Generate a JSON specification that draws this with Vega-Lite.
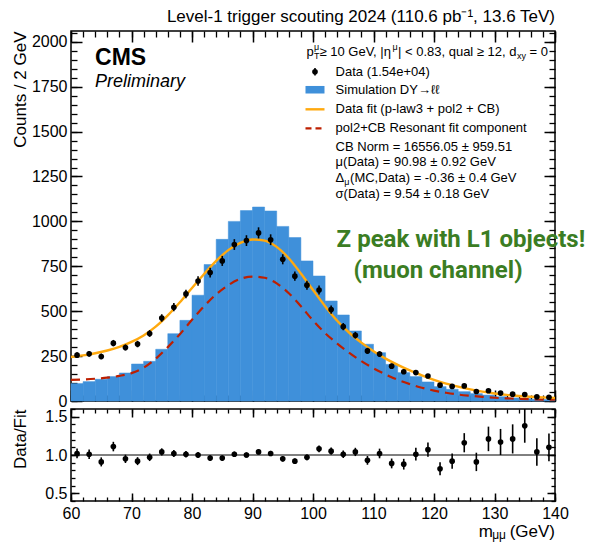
{
  "$schema": "https://vega.github.io/schema/vega-lite/v6.json",
  "background": "white",
  "padding": {"left": 10, "top": 7, "right": 0, "bottom": 0},
  "spacing": 8,
  "bounds": "flush",
  "config": {
    "font": "Liberation Sans",
    "view": {"stroke": "#000", "strokeWidth": 1.5},
    "axis": {"labelFont": "Liberation Sans", "titleFont": "Liberation Sans", "labelColor": "#000", "titleColor": "#000", "tickColor": "black", "domainColor": "#000", "grid": false, "titleFontWeight": "normal", "zindex": 2, "tickWidth": 1.5, "tickOpacity": 1, "labelFlush": false, "labelOverlap": false, "domain": false},
    "text": {"font": "Liberation Sans", "color": "#000"}
  },
  "datasets": {
    "hist": [
      {"lo": 60, "hi": 62, "mc": 97}, {"lo": 62, "hi": 64, "mc": 108}, {"lo": 64, "hi": 66, "mc": 121}, {"lo": 66, "hi": 68, "mc": 136},
      {"lo": 68, "hi": 70, "mc": 156}, {"lo": 70, "hi": 72, "mc": 206}, {"lo": 72, "hi": 74, "mc": 221}, {"lo": 74, "hi": 76, "mc": 288},
      {"lo": 76, "hi": 78, "mc": 375}, {"lo": 78, "hi": 80, "mc": 449}, {"lo": 80, "hi": 82, "mc": 589}, {"lo": 82, "hi": 84, "mc": 760},
      {"lo": 84, "hi": 86, "mc": 900}, {"lo": 86, "hi": 88, "mc": 1000}, {"lo": 88, "hi": 90, "mc": 1060}, {"lo": 90, "hi": 92, "mc": 1080},
      {"lo": 92, "hi": 94, "mc": 1058}, {"lo": 94, "hi": 96, "mc": 972}, {"lo": 96, "hi": 98, "mc": 910}, {"lo": 98, "hi": 100, "mc": 780},
      {"lo": 100, "hi": 102, "mc": 696}, {"lo": 102, "hi": 104, "mc": 557}, {"lo": 104, "hi": 106, "mc": 479}, {"lo": 106, "hi": 108, "mc": 390},
      {"lo": 108, "hi": 110, "mc": 316}, {"lo": 110, "hi": 112, "mc": 269}, {"lo": 112, "hi": 114, "mc": 204}, {"lo": 114, "hi": 116, "mc": 158},
      {"lo": 116, "hi": 118, "mc": 136}, {"lo": 118, "hi": 120, "mc": 106}, {"lo": 120, "hi": 122, "mc": 80}, {"lo": 122, "hi": 124, "mc": 65},
      {"lo": 124, "hi": 126, "mc": 52}, {"lo": 126, "hi": 128, "mc": 41}, {"lo": 128, "hi": 130, "mc": 33}, {"lo": 130, "hi": 132, "mc": 24},
      {"lo": 132, "hi": 134, "mc": 17}, {"lo": 134, "hi": 136, "mc": 13}, {"lo": 136, "hi": 138, "mc": 10}, {"lo": 138, "hi": 140, "mc": 8}
    ],
    "pts": [
      {"x": 61, "n": 255, "nlo": 239, "nhi": 271, "r": 1.02, "rlo": 0.956, "rhi": 1.084},
      {"x": 63, "n": 263, "nlo": 247, "nhi": 279, "r": 1.01, "rlo": 0.948, "rhi": 1.072},
      {"x": 65, "n": 248, "nlo": 232, "nhi": 264, "r": 0.91, "rlo": 0.851, "rhi": 0.969},
      {"x": 67, "n": 322, "nlo": 304, "nhi": 340, "r": 1.11, "rlo": 1.048, "rhi": 1.172},
      {"x": 69, "n": 298, "nlo": 281, "nhi": 315, "r": 0.95, "rlo": 0.896, "rhi": 1.004},
      {"x": 71, "n": 317, "nlo": 299, "nhi": 335, "r": 0.92, "rlo": 0.868, "rhi": 0.972},
      {"x": 73, "n": 376, "nlo": 357, "nhi": 395, "r": 0.97, "rlo": 0.921, "rhi": 1.019},
      {"x": 75, "n": 462, "nlo": 441, "nhi": 483, "r": 1.04, "rlo": 0.993, "rhi": 1.087},
      {"x": 77, "n": 522, "nlo": 499, "nhi": 545, "r": 1.02, "rlo": 0.975, "rhi": 1.065},
      {"x": 79, "n": 596, "nlo": 572, "nhi": 620, "r": 1.01, "rlo": 0.969, "rhi": 1.051},
      {"x": 81, "n": 668, "nlo": 642, "nhi": 694, "r": 1.0, "rlo": 0.961, "rhi": 1.039},
      {"x": 83, "n": 715, "nlo": 688, "nhi": 742, "r": 0.96, "rlo": 0.924, "rhi": 0.996},
      {"x": 85, "n": 780, "nlo": 752, "nhi": 808, "r": 0.96, "rlo": 0.926, "rhi": 0.994},
      {"x": 87, "n": 871, "nlo": 841, "nhi": 901, "r": 1.01, "rlo": 0.975, "rhi": 1.045},
      {"x": 89, "n": 893, "nlo": 863, "nhi": 923, "r": 1.0, "rlo": 0.966, "rhi": 1.034},
      {"x": 91, "n": 936, "nlo": 905, "nhi": 967, "r": 1.04, "rlo": 1.006, "rhi": 1.074},
      {"x": 93, "n": 898, "nlo": 868, "nhi": 928, "r": 1.02, "rlo": 0.986, "rhi": 1.054},
      {"x": 95, "n": 789, "nlo": 761, "nhi": 817, "r": 0.95, "rlo": 0.916, "rhi": 0.984},
      {"x": 97, "n": 695, "nlo": 669, "nhi": 721, "r": 0.92, "rlo": 0.886, "rhi": 0.954},
      {"x": 99, "n": 645, "nlo": 620, "nhi": 670, "r": 0.97, "rlo": 0.932, "rhi": 1.008},
      {"x": 101, "n": 618, "nlo": 593, "nhi": 643, "r": 1.08, "rlo": 1.036, "rhi": 1.124},
      {"x": 103, "n": 509, "nlo": 486, "nhi": 532, "r": 1.05, "rlo": 1.003, "rhi": 1.097},
      {"x": 105, "n": 414, "nlo": 394, "nhi": 434, "r": 1.01, "rlo": 0.961, "rhi": 1.059},
      {"x": 107, "n": 366, "nlo": 347, "nhi": 385, "r": 1.04, "rlo": 0.986, "rhi": 1.094},
      {"x": 109, "n": 279, "nlo": 262, "nhi": 296, "r": 0.93, "rlo": 0.873, "rhi": 0.987},
      {"x": 111, "n": 261, "nlo": 245, "nhi": 277, "r": 1.02, "rlo": 0.957, "rhi": 1.083},
      {"x": 113, "n": 194, "nlo": 180, "nhi": 208, "r": 0.89, "rlo": 0.826, "rhi": 0.954},
      {"x": 115, "n": 163, "nlo": 150, "nhi": 176, "r": 0.88, "rlo": 0.81, "rhi": 0.95},
      {"x": 117, "n": 158, "nlo": 145, "nhi": 171, "r": 1.01, "rlo": 0.927, "rhi": 1.093},
      {"x": 119, "n": 139, "nlo": 127, "nhi": 151, "r": 1.07, "rlo": 0.978, "rhi": 1.162},
      {"x": 121, "n": 88, "nlo": 79, "nhi": 97, "r": 0.82, "rlo": 0.736, "rhi": 0.904},
      {"x": 123, "n": 81, "nlo": 72, "nhi": 90, "r": 0.92, "rlo": 0.82, "rhi": 1.02},
      {"x": 125, "n": 84, "nlo": 75, "nhi": 93, "r": 1.16, "rlo": 1.035, "rhi": 1.285},
      {"x": 127, "n": 53, "nlo": 46, "nhi": 60, "r": 0.91, "rlo": 0.79, "rhi": 1.03},
      {"x": 129, "n": 57, "nlo": 49, "nhi": 65, "r": 1.21, "rlo": 1.05, "rhi": 1.37},
      {"x": 131, "n": 44, "nlo": 37, "nhi": 51, "r": 1.17, "rlo": 1.0, "rhi": 1.34},
      {"x": 133, "n": 38, "nlo": 32, "nhi": 44, "r": 1.21, "rlo": 1.02, "rhi": 1.4},
      {"x": 135, "n": 36, "nlo": 30, "nhi": 42, "r": 1.38, "rlo": 1.16, "rhi": 1.6},
      {"x": 137, "n": 23, "nlo": 18, "nhi": 28, "r": 1.04, "rlo": 0.86, "rhi": 1.22},
      {"x": 139, "n": 21, "nlo": 16, "nhi": 26, "r": 1.1, "rlo": 0.92, "rhi": 1.28}
    ],
    "fit": [
      {"x": 60, "f": 245, "res": 118}, {"x": 62, "f": 254, "res": 120}, {"x": 64, "f": 266, "res": 124}, {"x": 66, "f": 281, "res": 130},
      {"x": 68, "f": 301, "res": 140}, {"x": 70, "f": 329, "res": 155}, {"x": 72, "f": 365, "res": 185}, {"x": 74, "f": 414, "res": 235},
      {"x": 76, "f": 477, "res": 300}, {"x": 78, "f": 550, "res": 372}, {"x": 80, "f": 629, "res": 452}, {"x": 82, "f": 707, "res": 528},
      {"x": 84, "f": 780, "res": 594}, {"x": 86, "f": 840, "res": 645}, {"x": 88, "f": 880, "res": 680}, {"x": 90, "f": 899, "res": 693},
      {"x": 92, "f": 893, "res": 686}, {"x": 94, "f": 858, "res": 655}, {"x": 96, "f": 795, "res": 600}, {"x": 98, "f": 710, "res": 528},
      {"x": 100, "f": 618, "res": 448}, {"x": 102, "f": 528, "res": 378}, {"x": 104, "f": 447, "res": 320}, {"x": 106, "f": 380, "res": 268},
      {"x": 108, "f": 325, "res": 222}, {"x": 110, "f": 277, "res": 182}, {"x": 112, "f": 236, "res": 148}, {"x": 114, "f": 201, "res": 118},
      {"x": 116, "f": 170, "res": 94}, {"x": 118, "f": 143, "res": 74}, {"x": 120, "f": 118, "res": 58}, {"x": 122, "f": 97, "res": 46},
      {"x": 124, "f": 80, "res": 36}, {"x": 126, "f": 65, "res": 29}, {"x": 128, "f": 52, "res": 23}, {"x": 130, "f": 42, "res": 18},
      {"x": 132, "f": 34, "res": 15}, {"x": 134, "f": 28, "res": 12}, {"x": 136, "f": 24, "res": 10}, {"x": 138, "f": 20, "res": 8},
      {"x": 140, "f": 17, "res": 7}
    ]
  },
  "vconcat": [
    {
      "width": 484,
      "height": 370,
      "resolve": {"axis": {"x": "independent", "y": "independent"}},
      "layer": [
        {
          "data": {"name": "hist"},
          "mark": {"type": "rect", "color": "#3f90da", "stroke": "#3f90da", "strokeWidth": 0.5},
          "encoding": {
            "x": {"field": "lo", "type": "quantitative", "scale": {"domain": [60, 140], "nice": false, "zero": false},
                  "axis": {"orient": "bottom", "values": [60, 70, 80, 90, 100, 110, 120, 130, 140], "ticks": true, "tickColor": "black", "tickWidth": 1.5, "tickSize": -11, "labels": false, "title": null}},
            "x2": {"field": "hi"},
            "y": {"field": "mc", "type": "quantitative", "scale": {"domain": [0, 2060], "nice": false},
                  "axis": {"orient": "left", "values": [0, 250, 500, 750, 1000, 1250, 1500, 1750, 2000], "format": "d", "ticks": false, "labelFontSize": 16, "labelPadding": 4,
                           "title": "Counts / 2 GeV", "titleFontSize": 17, "titleAnchor": "end", "titleX": -46, "titleBaseline": "alphabetic"}},
            "y2": {"datum": 0}
          }
        },
        {
          "data": {"name": "fit"},
          "mark": {"type": "line", "color": "#bd1f01", "strokeWidth": 2.2, "strokeDash": [9, 6], "interpolate": "monotone"},
          "encoding": {
            "x": {"field": "x", "type": "quantitative",
                  "axis": {"orient": "bottom", "values": [60,62,64,66,68,70,72,74,76,78,80,82,84,86,88,90,92,94,96,98,100,102,104,106,108,110,112,114,116,118,120,122,124,126,128,130,132,134,136,138,140], "ticks": true, "tickColor": "black", "tickWidth": 1.3, "tickSize": -6, "labels": false, "title": null}},
            "y": {"field": "res", "type": "quantitative",
                  "axis": {"orient": "left", "values": [0,50,100,150,200,250,300,350,400,450,500,550,600,650,700,750,800,850,900,950,1000,1050,1100,1150,1200,1250,1300,1350,1400,1450,1500,1550,1600,1650,1700,1750,1800,1850,1900,1950,2000,2050], "ticks": true, "tickColor": "black", "tickWidth": 1.3, "tickSize": -6, "labels": false, "title": null}}
          }
        },
        {
          "data": {"name": "fit"},
          "mark": {"type": "line", "color": "#ffa90e", "strokeWidth": 2.4, "interpolate": "monotone"},
          "encoding": {
            "x": {"field": "x", "type": "quantitative",
                  "axis": {"orient": "top", "values": [60, 70, 80, 90, 100, 110, 120, 130, 140], "ticks": true, "tickColor": "black", "tickWidth": 1.5, "tickSize": -11, "labels": false, "title": null}},
            "y": {"field": "f", "type": "quantitative",
                  "axis": {"orient": "right", "values": [0, 250, 500, 750, 1000, 1250, 1500, 1750, 2000], "ticks": true, "tickColor": "black", "tickWidth": 1.5, "tickSize": -11, "labels": false, "title": null}}
          }
        },
        {
          "data": {"name": "pts"},
          "mark": {"type": "rule", "color": "#000", "strokeWidth": 1.6},
          "encoding": {
            "x": {"field": "x", "type": "quantitative",
                  "axis": {"orient": "top", "values": [60,62,64,66,68,70,72,74,76,78,80,82,84,86,88,90,92,94,96,98,100,102,104,106,108,110,112,114,116,118,120,122,124,126,128,130,132,134,136,138,140], "ticks": true, "tickColor": "black", "tickWidth": 1.3, "tickSize": -6, "labels": false, "title": null}},
            "y": {"field": "nlo", "type": "quantitative",
                  "axis": {"orient": "left", "values": [0, 250, 500, 750, 1000, 1250, 1500, 1750, 2000], "ticks": true, "tickColor": "black", "tickWidth": 1.5, "tickSize": -11, "labels": false, "title": null}},
            "y2": {"field": "nhi"}
          }
        },
        {
          "data": {"name": "pts"},
          "mark": {"type": "point", "filled": true, "color": "#000", "size": 32, "opacity": 1},
          "encoding": {
            "x": {"field": "x", "type": "quantitative", "axis": null},
            "y": {"field": "n", "type": "quantitative",
                  "axis": {"orient": "right", "values": [0,50,100,150,200,250,300,350,400,450,500,550,600,650,700,750,800,850,900,950,1000,1050,1100,1150,1200,1250,1300,1350,1400,1450,1500,1550,1600,1650,1700,1750,1800,1850,1900,1950,2000,2050], "ticks": true, "tickColor": "black", "tickWidth": 1.3, "tickSize": -6, "labels": false, "title": null}}
          }
        },
        {
          "data": {"values": [{}]},
          "mark": {"type": "text", "text": "Level-1 trigger scouting 2024 (110.6 pb⁻¹, 13.6 TeV)", "align": "right", "baseline": "alphabetic", "fontSize": 17},
          "encoding": {"x": {"datum": 140, "axis": null}, "y": {"datum": 2110, "axis": null}}
        },
        {
          "data": {"values": [{}]},
          "mark": {"type": "text", "text": "CMS", "align": "left", "baseline": "alphabetic", "fontSize": 23, "fontWeight": "bold"},
          "encoding": {"x": {"datum": 63.97, "axis": null}, "y": {"datum": 1869, "axis": null}}
        },
        {
          "data": {"values": [{}]},
          "mark": {"type": "text", "text": "Preliminary", "align": "left", "baseline": "alphabetic", "fontSize": 18, "fontStyle": "italic"},
          "encoding": {"x": {"datum": 63.97, "axis": null}, "y": {"datum": 1748, "axis": null}}
        },
        {
          "data": {"values": [{}]},
          "mark": {"type": "text", "text": "p", "align": "left", "baseline": "middle", "fontSize": 13},
          "encoding": {"x": {"datum": 98.92, "axis": null}, "y": {"datum": 1945, "axis": null}}
        },
        {
          "data": {"values": [{}]},
          "mark": {"type": "text", "text": "μ", "align": "left", "baseline": "middle", "fontSize": 9, "dx": 7.5, "dy": -5},
          "encoding": {"x": {"datum": 98.92, "axis": null}, "y": {"datum": 1945, "axis": null}}
        },
        {
          "data": {"values": [{}]},
          "mark": {"type": "text", "text": "T", "align": "left", "baseline": "middle", "fontSize": 9, "dx": 7.5, "dy": 4},
          "encoding": {"x": {"datum": 98.92, "axis": null}, "y": {"datum": 1945, "axis": null}}
        },
        {
          "data": {"values": [{}]},
          "mark": {"type": "text", "text": "≥ 10 GeV, |η", "align": "left", "baseline": "middle", "fontSize": 13, "dx": 13},
          "encoding": {"x": {"datum": 98.92, "axis": null}, "y": {"datum": 1945, "axis": null}}
        },
        {
          "data": {"values": [{}]},
          "mark": {"type": "text", "text": "μ", "align": "left", "baseline": "middle", "fontSize": 9, "dx": 86, "dy": -5},
          "encoding": {"x": {"datum": 98.92, "axis": null}, "y": {"datum": 1945, "axis": null}}
        },
        {
          "data": {"values": [{}]},
          "mark": {"type": "text", "text": "| < 0.83, qual ≥ 12, d", "align": "left", "baseline": "middle", "fontSize": 13, "dx": 91.5},
          "encoding": {"x": {"datum": 98.92, "axis": null}, "y": {"datum": 1945, "axis": null}}
        },
        {
          "data": {"values": [{}]},
          "mark": {"type": "text", "text": "xy", "align": "left", "baseline": "middle", "fontSize": 9, "dx": 210.5, "dy": 4},
          "encoding": {"x": {"datum": 98.92, "axis": null}, "y": {"datum": 1945, "axis": null}}
        },
        {
          "data": {"values": [{}]},
          "mark": {"type": "text", "text": "= 0", "align": "left", "baseline": "middle", "fontSize": 13, "dx": 223},
          "encoding": {"x": {"datum": 98.92, "axis": null}, "y": {"datum": 1945, "axis": null}}
        },
        {
          "data": {"values": [{}]},
          "mark": {"type": "rule", "color": "#000", "strokeWidth": 1.6},
          "encoding": {"x": {"datum": 100.33, "axis": null}, "y": {"datum": 1854, "axis": null}, "y2": {"datum": 1812}}
        },
        {
          "data": {"values": [{}]},
          "mark": {"type": "point", "filled": true, "color": "#000", "size": 32, "opacity": 1},
          "encoding": {"x": {"datum": 100.33, "axis": null}, "y": {"datum": 1833, "axis": null}}
        },
        {
          "data": {"values": [{}]},
          "mark": {"type": "rect", "color": "#3f90da"},
          "encoding": {"x": {"datum": 98.76, "axis": null}, "x2": {"datum": 101.9}, "y": {"datum": 1712, "axis": null}, "y2": {"datum": 1754}}
        },
        {
          "data": {"values": [{}]},
          "mark": {"type": "rule", "color": "#ffa90e", "strokeWidth": 2.4},
          "encoding": {"x": {"datum": 98.76, "axis": null}, "x2": {"datum": 101.9}, "y": {"datum": 1624, "axis": null}}
        },
        {
          "data": {"values": [{}]},
          "mark": {"type": "rule", "color": "#bd1f01", "strokeWidth": 2.4, "strokeDash": [6, 4]},
          "encoding": {"x": {"datum": 98.76, "axis": null}, "x2": {"datum": 101.9}, "y": {"datum": 1518, "axis": null}}
        },
        {
          "data": {"values": [{}]},
          "mark": {"type": "text", "text": "Data (1.54e+04)", "align": "left", "baseline": "middle", "fontSize": 13},
          "encoding": {"x": {"datum": 103.73, "axis": null}, "y": {"datum": 1833, "axis": null}}
        },
        {
          "data": {"values": [{}]},
          "mark": {"type": "text", "text": "Simulation DY→ℓℓ", "align": "left", "baseline": "middle", "fontSize": 13},
          "encoding": {"x": {"datum": 103.73, "axis": null}, "y": {"datum": 1732, "axis": null}}
        },
        {
          "data": {"values": [{}]},
          "mark": {"type": "text", "text": "Data fit (p-law3 + pol2 + CB)", "align": "left", "baseline": "middle", "fontSize": 13},
          "encoding": {"x": {"datum": 103.73, "axis": null}, "y": {"datum": 1624, "axis": null}}
        },
        {
          "data": {"values": [{}]},
          "mark": {"type": "text", "text": "pol2+CB Resonant fit component", "align": "left", "baseline": "middle", "fontSize": 13},
          "encoding": {"x": {"datum": 103.73, "axis": null}, "y": {"datum": 1518, "axis": null}}
        },
        {
          "data": {"values": [{}]},
          "mark": {"type": "text", "text": "CB Norm = 16556.05 ± 959.51", "align": "left", "baseline": "middle", "fontSize": 13},
          "encoding": {"x": {"datum": 103.73, "axis": null}, "y": {"datum": 1414, "axis": null}}
        },
        {
          "data": {"values": [{}]},
          "mark": {"type": "text", "text": "μ(Data) = 90.98 ± 0.92 GeV", "align": "left", "baseline": "middle", "fontSize": 13},
          "encoding": {"x": {"datum": 103.73, "axis": null}, "y": {"datum": 1328, "axis": null}}
        },
        {
          "data": {"values": [{}]},
          "mark": {"type": "text", "text": "Δ", "align": "left", "baseline": "middle", "fontSize": 13},
          "encoding": {"x": {"datum": 103.73, "axis": null}, "y": {"datum": 1244, "axis": null}}
        },
        {
          "data": {"values": [{}]},
          "mark": {"type": "text", "text": "μ", "align": "left", "baseline": "middle", "fontSize": 9, "dx": 8.8, "dy": 4},
          "encoding": {"x": {"datum": 103.73, "axis": null}, "y": {"datum": 1244, "axis": null}}
        },
        {
          "data": {"values": [{}]},
          "mark": {"type": "text", "text": "(MC,Data) = -0.36 ± 0.4 GeV", "align": "left", "baseline": "middle", "fontSize": 13, "dx": 14.5},
          "encoding": {"x": {"datum": 103.73, "axis": null}, "y": {"datum": 1244, "axis": null}}
        },
        {
          "data": {"values": [{}]},
          "mark": {"type": "text", "text": "σ(Data) = 9.54 ± 0.18 GeV", "align": "left", "baseline": "middle", "fontSize": 13},
          "encoding": {"x": {"datum": 103.73, "axis": null}, "y": {"datum": 1150, "axis": null}}
        },
        {
          "data": {"values": [{}]},
          "mark": {"type": "text", "text": "Z peak with L1 objects!", "align": "left", "baseline": "alphabetic", "font": "Roboto", "fontSize": 24, "fontWeight": "bold", "color": "#3b7d23"},
          "encoding": {"x": {"datum": 103.9, "axis": null}, "y": {"datum": 857, "axis": null}}
        },
        {
          "data": {"values": [{}]},
          "mark": {"type": "text", "text": "(muon channel)", "align": "left", "baseline": "alphabetic", "font": "Roboto", "fontSize": 24, "fontWeight": "bold", "color": "#3b7d23"},
          "encoding": {"x": {"datum": 106.7, "axis": null}, "y": {"datum": 685, "axis": null}}
        }
      ]
    },
    {
      "width": 484,
      "height": 92,
      "resolve": {"axis": {"x": "independent", "y": "independent"}},
      "layer": [
        {
          "data": {"values": [{}]},
          "mark": {"type": "rule", "color": "#000", "strokeWidth": 1},
          "encoding": {
            "y": {"datum": 1, "scale": {"domain": [0.4, 1.6], "nice": false, "zero": false},
                  "axis": {"orient": "left", "values": [0.4,0.5,0.6,0.7,0.8,0.9,1.0,1.1,1.2,1.3,1.4,1.5,1.6], "ticks": true, "tickColor": "black", "tickWidth": 1.3, "tickSize": -4, "labels": false, "title": null}}
          }
        },
        {
          "data": {"name": "pts"},
          "mark": {"type": "rule", "color": "#000", "strokeWidth": 1.6},
          "encoding": {
            "x": {"field": "x", "type": "quantitative", "scale": {"domain": [60, 140], "nice": false, "zero": false},
                  "axis": {"orient": "bottom", "values": [60, 70, 80, 90, 100, 110, 120, 130, 140], "ticks": false, "labelFontSize": 16, "labelPadding": 4, "title": null}},
            "y": {"field": "rlo", "type": "quantitative",
                  "axis": {"orient": "left", "values": [0.5, 1.0, 1.5], "format": ".1f", "ticks": false, "labelFontSize": 16, "labelPadding": 4,
                           "title": "Data/Fit", "titleFontSize": 17, "titleAnchor": "end", "titleX": -46, "titleBaseline": "alphabetic"}},
            "y2": {"field": "rhi"}
          }
        },
        {
          "data": {"name": "pts"},
          "mark": {"type": "point", "filled": true, "color": "#000", "size": 32, "opacity": 1},
          "encoding": {
            "x": {"field": "x", "type": "quantitative",
                  "axis": {"orient": "top", "values": [60, 70, 80, 90, 100, 110, 120, 130, 140], "ticks": true, "tickColor": "black", "tickWidth": 1.5, "tickSize": -8, "labels": false, "title": null}},
            "y": {"field": "r", "type": "quantitative",
                  "axis": {"orient": "right", "values": [0.5, 1.0, 1.5], "ticks": true, "tickColor": "black", "tickWidth": 1.5, "tickSize": -8, "labels": false, "title": null}}
          }
        },
        {
          "data": {"name": "pts"},
          "mark": {"type": "point", "opacity": 0},
          "encoding": {
            "x": {"field": "x", "type": "quantitative",
                  "axis": {"orient": "bottom", "values": [60, 70, 80, 90, 100, 110, 120, 130, 140], "ticks": true, "tickColor": "black", "tickWidth": 1.5, "tickSize": -8, "labels": false, "title": null}},
            "y": {"field": "r", "type": "quantitative",
                  "axis": {"orient": "right", "values": [0.4,0.5,0.6,0.7,0.8,0.9,1.0,1.1,1.2,1.3,1.4,1.5,1.6], "ticks": true, "tickColor": "black", "tickWidth": 1.3, "tickSize": -4, "labels": false, "title": null}}
          }
        },
        {
          "data": {"name": "pts"},
          "mark": {"type": "point", "opacity": 0},
          "encoding": {
            "x": {"field": "x", "type": "quantitative",
                  "axis": {"orient": "top", "values": [60,62,64,66,68,70,72,74,76,78,80,82,84,86,88,90,92,94,96,98,100,102,104,106,108,110,112,114,116,118,120,122,124,126,128,130,132,134,136,138,140], "ticks": true, "tickColor": "black", "tickWidth": 1.3, "tickSize": -4, "labels": false, "title": null}},
            "y": {"field": "r", "type": "quantitative",
                  "axis": {"orient": "left", "values": [0.5, 1.0, 1.5], "ticks": true, "tickColor": "black", "tickWidth": 1.5, "tickSize": -8, "labels": false, "title": null}}
          }
        },
        {
          "data": {"name": "pts"},
          "mark": {"type": "point", "opacity": 0},
          "encoding": {
            "x": {"field": "x", "type": "quantitative",
                  "axis": {"orient": "bottom", "values": [60,62,64,66,68,70,72,74,76,78,80,82,84,86,88,90,92,94,96,98,100,102,104,106,108,110,112,114,116,118,120,122,124,126,128,130,132,134,136,138,140], "ticks": true, "tickColor": "black", "tickWidth": 1.3, "tickSize": -4, "labels": false, "title": null}},
            "y": {"field": "r", "type": "quantitative", "axis": null}
          }
        },
        {
          "data": {"values": [{}]},
          "mark": {"type": "text", "text": "(GeV)", "align": "right", "baseline": "alphabetic", "fontSize": 17},
          "encoding": {"x": {"datum": 140, "axis": null}, "y": {"datum": -0.065, "axis": null}}
        },
        {
          "data": {"values": [{}]},
          "mark": {"type": "text", "text": "μμ", "align": "right", "baseline": "alphabetic", "fontSize": 12, "dx": -49, "dy": 2},
          "encoding": {"x": {"datum": 140, "axis": null}, "y": {"datum": -0.065, "axis": null}}
        },
        {
          "data": {"values": [{}]},
          "mark": {"type": "text", "text": "m", "align": "right", "baseline": "alphabetic", "fontSize": 17, "dx": -62},
          "encoding": {"x": {"datum": 140, "axis": null}, "y": {"datum": -0.065, "axis": null}}
        }
      ]
    }
  ]
}
